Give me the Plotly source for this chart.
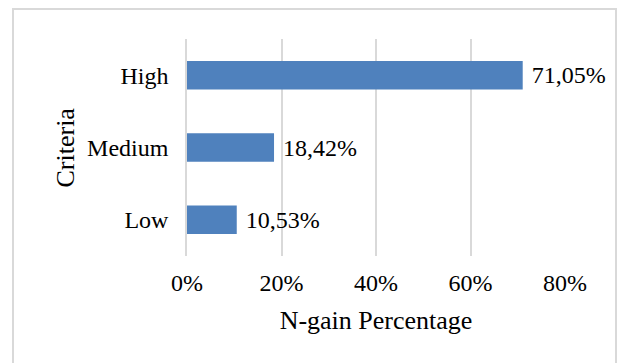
import plotly.graph_objects as go

# N-gain distribution by criteria
criteria = ["High", "Medium", "Low"]
shares = [0.7105, 0.1842, 0.1053]
x_ticks = [0, 0.2, 0.4, 0.6, 0.8]

serif = "Liberation Serif, Times New Roman, serif"

# plot area in pixels: left 187, right 565, top 38.5, bottom 256
PLOT_L, PLOT_W = 187, 378
PLOT_B, PLOT_H = 256, 217.5

fig = go.Figure(
    go.Bar(
        x=shares,
        y=criteria,
        orientation="h",
        marker=dict(color="#4f81bd", line=dict(width=0)),
        texttemplate=" %{x:.2%}",
        textposition="outside",
        textfont=dict(family=serif, size=24, color="black"),
        constraintext="none",
        cliponaxis=False,
    )
)

fig.update_layout(
    width=618,
    height=363,
    margin=dict(l=187, r=53, t=38.5, b=107),
    paper_bgcolor="white",
    plot_bgcolor="white",
    separators=",.",
    bargap=0.607,
    showlegend=False,
    font=dict(family=serif, size=24, color="black"),
    xaxis=dict(
        range=[0, 0.8],
        tickvals=x_ticks,
        tickformat=".0%",
        showgrid=True,
        gridcolor="#d9d9d9",
        gridwidth=1.5,
        zeroline=False,
        showline=False,
        ticks="",
        ticklabelstandoff=10,
        tickfont=dict(size=24),
        title=dict(text="N-gain Percentage", font=dict(size=26), standoff=15),
    ),
    yaxis=dict(
        autorange="reversed",
        showgrid=False,
        zeroline=False,
        showline=True,
        linecolor="#d9d9d9",
        linewidth=1.5,
        ticks="",
        ticklabelstandoff=12,
        tickfont=dict(size=24),
    ),
    annotations=[
        dict(
            text="Criteria",
            xref="paper",
            yref="paper",
            x=(65 - PLOT_L) / PLOT_W,
            y=0.5,
            xanchor="center",
            yanchor="middle",
            textangle=-90,
            showarrow=False,
            font=dict(family=serif, size=26, color="black"),
        )
    ],
    shapes=[
        dict(
            type="rect",
            xref="paper",
            yref="paper",
            x0=(13 - PLOT_L) / PLOT_W,
            x1=(616 - PLOT_L) / PLOT_W,
            y0=(PLOT_B - 380) / PLOT_H,
            y1=(PLOT_B - 8.5) / PLOT_H,
            line=dict(color="#d9d9d9", width=2),
            fillcolor="rgba(0,0,0,0)",
            layer="below",
        )
    ],
)

fig.write_html("out.html")
